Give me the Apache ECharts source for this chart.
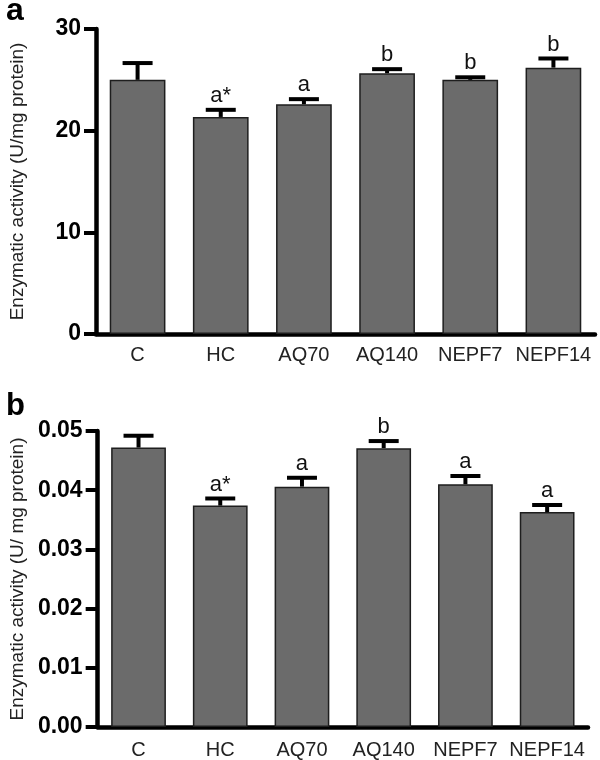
<!DOCTYPE html>
<html>
<head>
<meta charset="utf-8">
<script src="https://cdn.jsdelivr.net/npm/echarts@6/dist/echarts.min.js"></script>
<style>html,body{margin:0;padding:0;background:#fff}#main{width:600px;height:760px}</style>
</head>
<body>
<div id="main"></div>
<script>
var categories = ['C', 'HC', 'AQ70', 'AQ140', 'NEPF7', 'NEPF14'];
var meanA = [25.0, 21.35, 22.6, 25.65, 25.0, 26.2];
var semA = [1.65, 0.7, 0.5, 0.4, 0.25, 0.9];
var lettersA = ['', 'a*', 'a', 'b', 'b', 'b'];
var meanB = [0.0472, 0.0374, 0.0406, 0.0471, 0.0410, 0.0363];
var semB = [0.0020, 0.0012, 0.0015, 0.0012, 0.0014, 0.0012];
var lettersB = ['', 'a*', 'a', 'b', 'a', 'a'];
var ticksA = [0, 10, 20, 30];
var ticksB = [0, 0.01, 0.02, 0.03, 0.04, 0.05];

var FONT = '"Liberation Sans", Arial, Helvetica, sans-serif';
var chart = echarts.init(document.getElementById('main'), null, {renderer: 'canvas'});

function errItem(letters) {
  return function (params, api) {
    var i = api.value(0), m = api.value(1), e = api.value(2);
    var p0 = api.coord([i, m]);
    var p1 = api.coord([i, m + e]);
    var hw = 15;
    var st = {stroke: '#000', lineWidth: 4};
    return {
      type: 'group',
      children: [
        {type: 'line', shape: {x1: p0[0], y1: p0[1], x2: p1[0], y2: p1[1]}, style: st},
        {type: 'line', shape: {x1: p1[0] - hw, y1: p1[1], x2: p1[0] + hw, y2: p1[1]}, style: st},
        {type: 'text', style: {x: p1[0], y: p1[1] - 3, text: letters[params.dataIndex],
          fill: '#111', font: '22px ' + FONT, align: 'center', verticalAlign: 'bottom'}}
      ]
    };
  };
}

function yAxisCfg(gi, max, interval, fmt, name, gap) {
  return {
    type: 'value', gridIndex: gi, min: 0, max: max, interval: interval,
    name: name, nameLocation: 'middle', nameGap: gap, nameRotate: 90,
    nameTextStyle: {fontFamily: FONT, fontSize: 19, color: '#222'},
    axisLine: {show: true, lineStyle: {color: '#000', width: 4.5}},
    axisTick: {show: true, length: 12, lineStyle: {color: '#000', width: 4}},
    splitLine: {show: false},
    axisLabel: {fontFamily: FONT, fontSize: 23, fontWeight: 'bold', color: '#000', margin: 15, formatter: fmt}
  };
}
function xAxisCfg(gi, margin) {
  return {
    type: 'category', gridIndex: gi, data: categories,
    axisLine: {show: true, lineStyle: {color: '#000', width: 4.5}},
    axisTick: {show: false},
    axisLabel: {fontFamily: FONT, fontSize: 20, color: '#222', margin: margin, interval: 0}
  };
}

chart.setOption({
  animation: false,
  backgroundColor: '#fff',
  grid: [
    {left: 92, width: 503, top: 29, height: 305},
    {left: 92, width: 496, top: 431, height: 298}
  ],
  xAxis: [xAxisCfg(0, 11), xAxisCfg(1, 13)],
  yAxis: [
    yAxisCfg(0, ticksA[ticksA.length - 1], ticksA[1] - ticksA[0], function (v) { return String(v); }, 'Enzymatic activity (U/mg protein)', 69),
    yAxisCfg(1, ticksB[ticksB.length - 1], ticksB[1] - ticksB[0], function (v) { return v.toFixed(2); }, 'Enzymatic activity (U/ mg protein)', 69)
  ],
  graphic: [
    {type: 'text', left: 6, top: -5, style: {text: 'a', font: 'bold 32px ' + FONT, fill: '#000'}},
    {type: 'text', left: 6, top: 391, style: {text: 'b', font: 'bold 31px ' + FONT, fill: '#000'}}
  ],
  series: [
    {type: 'bar', xAxisIndex: 0, yAxisIndex: 0, data: meanA, barCategoryGap: '33%',
      itemStyle: {color: '#6b6b6b', borderColor: '#1e1e1e', borderWidth: 1.5}},
    {type: 'custom', xAxisIndex: 0, yAxisIndex: 0, z: 5,
      data: categories.map(function (c, i) { return [i, meanA[i], semA[i]]; }),
      renderItem: errItem(lettersA)},
    {type: 'bar', xAxisIndex: 1, yAxisIndex: 1, data: meanB, barCategoryGap: '33%',
      itemStyle: {color: '#6b6b6b', borderColor: '#1e1e1e', borderWidth: 1.5}},
    {type: 'custom', xAxisIndex: 1, yAxisIndex: 1, z: 5,
      data: categories.map(function (c, i) { return [i, meanB[i], semB[i]]; }),
      renderItem: errItem(lettersB)}
  ]
});
</script>
</body>
</html>
